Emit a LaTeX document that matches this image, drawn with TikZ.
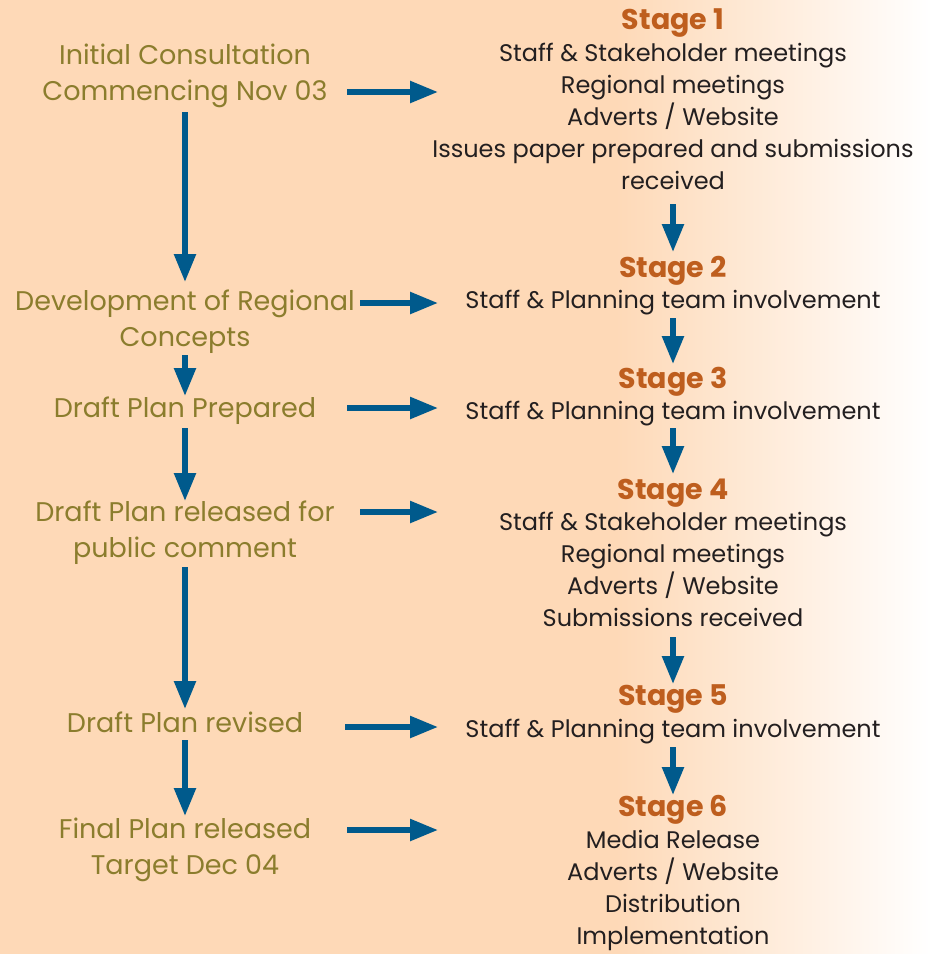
\documentclass[tikz,border=0pt]{standalone}
\usepackage{fontspec}
\setmainfont{Poppins}
\usetikzlibrary{arrows.meta}
\definecolor{peach}{RGB}{254,217,183}
\definecolor{olive}{RGB}{139,125,45}
\definecolor{stagec}{RGB}{190,94,30}
\definecolor{arrowc}{RGB}{0,90,140}
\definecolor{textc}{RGB}{35,31,32}
\pgfdeclarehorizontalshading{bgshade}{100bp}{color(0bp)=(peach); color(25bp)=(peach); color(58bp)=(peach); color(75bp)=(white); color(100bp)=(white)}
\tikzset{
  lefttext/.style={text=olive, align=center, anchor=base, inner sep=0pt, font=\fontsize{27}{36}\selectfont},
  stagetext/.style={text=stagec, anchor=base, inner sep=0pt, font=\fontsize{28.5}{32}\selectfont\bfseries},
  bodytext/.style={text=textc, align=center, anchor=base, inner sep=0pt, font=\fontsize{24}{32}\selectfont},
  flow/.style={draw=arrowc, line width=5.5pt, -{Triangle[length=28pt,width=21pt]}}
}
\begin{document}
\begin{tikzpicture}[x=1pt,y=-1pt]
\shade[shading=bgshade] (0,0) rectangle (932,954);
\useasboundingbox (0,0) rectangle (932,954);
% left column (base = baseline of last line)
\node[lefttext] (l1) at (185,100) {Initial Consultation\\Commencing Nov 03};
\node[lefttext] (l2) at (185,346) {Development of Regional\\Concepts};
\node[lefttext] (l3) at (185,417) {Draft Plan Prepared};
\node[lefttext] (l4) at (185,557) {Draft Plan released for\\public comment};
\node[lefttext] (l5) at (185,732) {Draft Plan revised};
\node[lefttext] (l6) at (185,874) {Final Plan released\\Target Dec 04};
% right column
\node[stagetext] (s1) at (673,29) {Stage 1};
\node[bodytext] (b1) at (673,189) {Staff \& Stakeholder meetings\\Regional meetings\\Adverts / Website\\Issues paper prepared and submissions\\received};
\node[stagetext] (s2) at (673,277) {Stage 2};
\node[bodytext] (b2) at (673,308) {Staff \& Planning team involvement};
\node[stagetext] (s3) at (673,388) {Stage 3};
\node[bodytext] (b3) at (673,419) {Staff \& Planning team involvement};
\node[stagetext] (s4) at (673,499) {Stage 4};
\node[bodytext] (b4) at (673,626) {Staff \& Stakeholder meetings\\Regional meetings\\Adverts / Website\\Submissions received};
\node[stagetext] (s5) at (673,705) {Stage 5};
\node[bodytext] (b5) at (673,737) {Staff \& Planning team involvement};
\node[stagetext] (s6) at (673,816) {Stage 6};
\node[bodytext] (b6) at (673,944) {Media Release\\Adverts / Website\\Distribution\\Implementation};
% connectors
\coordinate (h1a) at (347,92); \coordinate (h1b) at (438,92);
\coordinate (h2a) at (360,303); \coordinate (h2b) at (438,303);
\coordinate (h3a) at (347,408); \coordinate (h3b) at (438,408);
\coordinate (h4a) at (360,512); \coordinate (h4b) at (438,512);
\coordinate (h5a) at (345,727); \coordinate (h5b) at (438,727);
\coordinate (h6a) at (347,830); \coordinate (h6b) at (438,830);
\foreach \i in {1,...,6} \draw[flow] (h\i a) -- (h\i b);
\draw[flow] (185,112) -- (185,282);
\draw[flow] (185,355) -- (185,396);
\draw[flow] (185,428) -- (185,501);
\draw[flow] (185,567) -- (185,709);
\draw[flow] (185,740) -- (185,816);
\draw[flow] (673,204) -- (673,252);
\draw[flow] (673,318) -- (673,364);
\draw[flow] (673,428) -- (673,474);
\draw[flow] (673,637) -- (673,684);
\draw[flow] (673,747) -- (673,795);
\end{tikzpicture}
\end{document}
